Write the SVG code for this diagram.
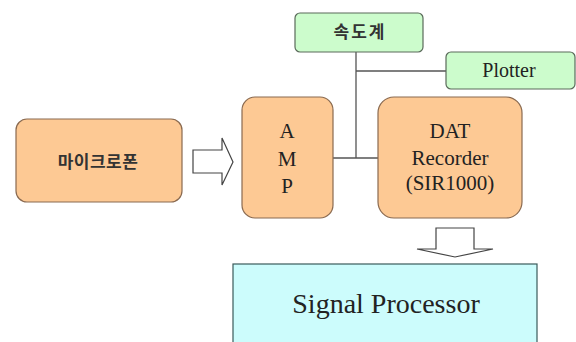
<svg xmlns="http://www.w3.org/2000/svg" width="576" height="342" viewBox="0 0 576 342">
<style>
.orange{fill:#fdc994;stroke:#8a6a50;stroke-width:1.2}
.green{fill:#ccfccc;stroke:#5a6a5a;stroke-width:1.2}
.cyan{fill:#ccfcfc;stroke:#3a5a5a;stroke-width:1.2}
.kr{font-family:"Noto Sans CJK KR","Noto Sans",sans-serif;font-weight:bold;fill:#333}
.line{stroke:#555;stroke-width:1.3;fill:none}
.blk{fill:#fff;stroke:#444;stroke-width:1.2}
</style>
<rect width="576" height="342" fill="#fff"/>
<g id="connectors">
<path class="line" d="M356,52 V158 M333,158 H378 M356,71 H446"/>
<path class="blk" d="M193,150 L222,150 L222,138 L233,162 L222,185 L222,173 L193,173 Z"/>
<path class="blk" d="M436,228 L474,228 L474,249 L493,249 L455,257 L417,249 L436,249 Z"/>
</g>
<g id="speedometer">
<rect class="green" x="295" y="13" width="128" height="39" rx="5"/>
<text class="kr" x="360" y="38" font-size="17" text-anchor="middle" letter-spacing="2">속도계</text>
</g>
<g font-family="'Liberation Serif', 'Times New Roman', serif" fill="#222" text-anchor="middle">
<g id="plotter">
<rect class="green" x="446" y="52" width="129" height="37" rx="5"/>
<text x="509" y="77" font-size="20">Plotter</text>
</g>
<g id="amp">
<rect class="orange" x="242" y="97" width="91" height="121" rx="13"/>
<text x="287" y="138" font-size="21">A</text>
<text x="287" y="166" font-size="21">M</text>
<text x="287" y="193" font-size="21">P</text>
</g>
<g id="dat">
<rect class="orange" x="378" y="97" width="144" height="121" rx="16"/>
<text x="450" y="138" font-size="21">DAT</text>
<text x="450" y="165" font-size="21">Recorder</text>
<text x="450" y="190" font-size="21">(SIR1000)</text>
</g>
<g id="signal-processor">
<rect class="cyan" x="233" y="264" width="304" height="90"/>
<text x="386" y="313" font-size="28">Signal Processor</text>
</g>
</g>
<g id="microphone">
<rect class="orange" x="16" y="119" width="166" height="83" rx="11"/>
<text class="kr" x="98" y="168" font-size="17" text-anchor="middle" letter-spacing="0.5">마이크로폰</text>
</g>
</svg>
